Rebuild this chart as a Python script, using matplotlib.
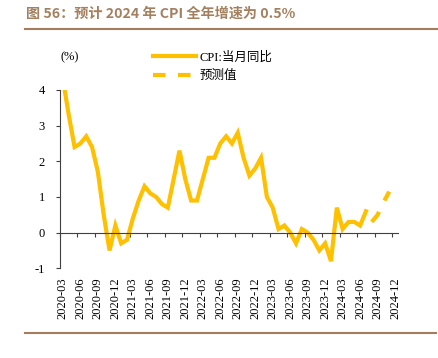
import numpy as np
import matplotlib.pyplot as plt
from matplotlib.lines import Line2D

plt.rcParams['font.family'] = ['Liberation Serif', 'Noto Sans CJK SC']

# months shown on the category axis: 2020-03 .. 2024-12
months = [f"{y}-{m:02d}" for y in range(2020, 2025) for m in range(1, 13)]
months = months[2:]

# CPI 当月同比 (2020-03 .. 2024-07)
cpi = [4.3, 3.3, 2.4, 2.5, 2.7, 2.4, 1.7, 0.5, -0.5, 0.2,
       -0.3, -0.2, 0.4, 0.9, 1.3, 1.1, 1.0, 0.8, 0.7, 1.5, 2.3, 1.5,
       0.9, 0.9, 1.5, 2.1, 2.1, 2.5, 2.7, 2.5, 2.8, 2.1, 1.6, 1.8,
       2.1, 1.0, 0.7, 0.1, 0.2, 0.0, -0.3, 0.1, 0.0, -0.2, -0.5, -0.3,
       -0.8, 0.7, 0.1, 0.3, 0.3, 0.2, 0.6]
# 预测值 (2024-08 .. 2024-11)
fcst_start = "2024-08"
fcst = [0.3, 0.5, 0.85, 1.15]

gold = '#FFC000'
brown = '#A67C5B'

fig = plt.figure(figsize=(4.38, 3.58), dpi=100)
ax = fig.add_axes([60/438, 1 - 268.3/358, 338/438, (268.3 - 90)/358])

x_cpi = np.arange(len(cpi))
i0 = months.index(fcst_start)
x_f = np.arange(i0, i0 + len(fcst))

ax.plot(x_cpi, cpi, color=gold, lw=3, solid_joinstyle='miter')
ax.plot(x_f, fcst, color=gold, lw=3, ls=(0, (3, 3)), dash_capstyle='butt')

ax.set_xlim(-0.5, len(months) - 0.5)
ax.set_ylim(-1, 4)
ax.set_yticks([-1, 0, 1, 2, 3, 4])
ax.set_yticklabels(['-1', '0', '1', '2', '3', '4'])

# category axis: ticks between categories, labels every 3 months
ax.spines['top'].set_visible(False)
ax.spines['right'].set_visible(False)
ax.spines['bottom'].set_position(('data', 0))
ax.spines['left'].set_color('#404040')
ax.spines['bottom'].set_color('#404040')
ax.set_xticks(np.arange(0, len(months), 3) - 0.5)
ax.set_xticklabels([])
ax.tick_params(axis='x', which='major', direction='out', length=3, color='#404040')
ax.set_xticks(np.arange(0, len(months), 3), minor=True)
ax.set_xticklabels(months[::3], minor=True, rotation=90, fontsize=9)
ax.tick_params(axis='x', which='minor', length=0, pad=32)
ax.tick_params(axis='y', direction='out', length=3, labelsize=9, color='#404040', pad=8)

fig.text(70/438, 1 - 57/358, '(%)', fontsize=9, ha='center', va='center')

handles = [Line2D([], [], color=gold, lw=3),
           Line2D([], [], color=gold, lw=3, ls=(0, (3, 3)))]
fig.legend(handles, ['CPI:当月同比', '预测值'], loc='upper left',
           bbox_to_anchor=(142/438, 1 - 40/358), frameon=False, fontsize=9,
           handlelength=3.4, handletextpad=0.3, labelspacing=0.55)

fig.text(26/438, 1 - 14/358, '图 56：预计 2024 年 CPI 全年增速为 0.5%',
         fontsize=10.2, fontweight='bold', color='#A3805F', va='center',
         family=['Noto Sans CJK SC'])
fig.add_artist(Line2D([25/438, 1], [1 - 29/358] * 2, color=brown, lw=1.5))
fig.add_artist(Line2D([25/438, 436/438], [1 - 332.7/358] * 2, color=brown, lw=1.5))

fig.savefig('out.png', dpi=100)
